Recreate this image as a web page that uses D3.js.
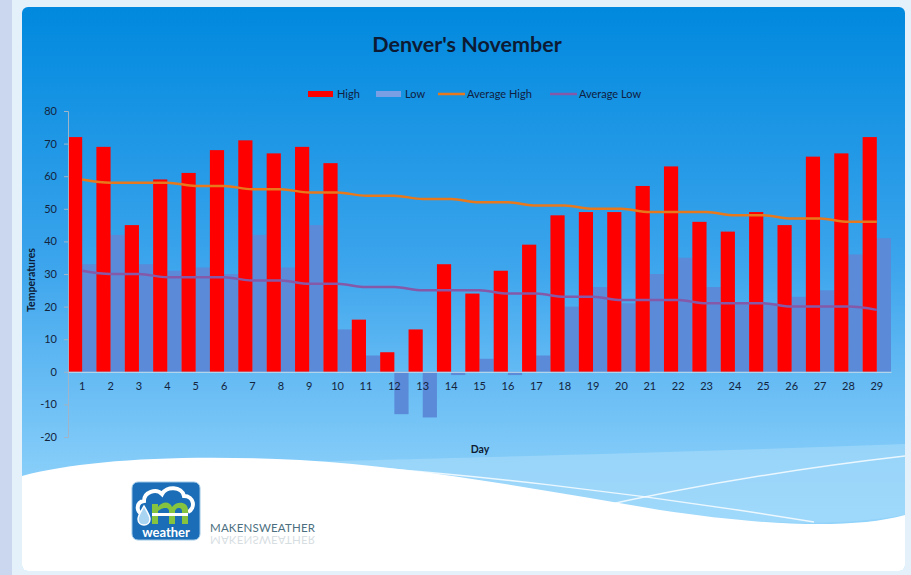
<!DOCTYPE html>
<html>
<head>
<meta charset="utf-8">
<script src="https://cdn.jsdelivr.net/npm/d3@7"></script>
<style>
  html, body { margin: 0; padding: 0; background: #e4f1fb; }
  svg { display: block; font-family: Lato, "Open Sans", sans-serif; }
</style>
</head>
<body>
<svg id="chart" width="911" height="575"></svg>
<script>
// Denver's November, daily temperatures
const days = d3.range(1, 30);
const high = [72, 69, 45, 59, 61, 68, 71, 67, 69, 64, 16, 6, 13, 33, 24, 31, 39, 48, 49, 49, 57, 63, 46, 43, 49, 45, 66, 67, 72];
const low = [33, 42, 33, 31, 32, 30, 42, 32, 45, 13, 5, -13, -14, -1, 4, -1, 5, 20, 26, 21, 30, 35, 26, 21, 21, 23, 25, 36, 41];
const avgHigh = [59, 58, 58, 58, 57, 57, 56, 56, 55, 55, 54, 54, 53, 53, 52, 52, 51, 51, 50, 50, 49, 49, 49, 48, 48, 47, 47, 46, 46];
const avgLow = [31, 30, 30, 29, 29, 29, 28, 28, 27, 27, 26, 26, 25, 25, 25, 24, 24, 23, 23, 22, 22, 22, 21, 21, 21, 20, 20, 20, 19];
const yTicks = [-20, -10, 0, 10, 20, 30, 40, 50, 60, 70, 80];
const legendItems = [
  { name: "High", kind: "bar", color: "#ff0000" },
  { name: "Low", kind: "bar", color: "#7a9fe4" },
  { name: "Average High", kind: "line", color: "#e8781c" },
  { name: "Average Low", kind: "line", color: "#8559a8" },
];

const svg = d3.select("#chart");
const defs = svg.append("defs");

// ---- frame and background ----
svg.append("rect").attr("x", 0).attr("y", 0).attr("width", 12).attr("height", 575).attr("fill", "#cbd7ef");

const bg = defs.append("linearGradient").attr("id", "bg").attr("x1", 0).attr("y1", 0).attr("x2", 0).attr("y2", 1);
bg.append("stop").attr("offset", "0%").attr("stop-color", "#0089de");
bg.append("stop").attr("offset", "45%").attr("stop-color", "#3ba4ec");
bg.append("stop").attr("offset", "82%").attr("stop-color", "#86cdf9");
bg.append("stop").attr("offset", "100%").attr("stop-color", "#9ad8fb");

defs.append("clipPath").attr("id", "panelClip")
  .append("rect").attr("x", 22).attr("y", 7).attr("width", 883).attr("height", 564).attr("rx", 6);

const panel = svg.append("g").attr("clip-path", "url(#panelClip)");
panel.append("rect").attr("x", 22).attr("y", 7).attr("width", 883).attr("height", 564).attr("fill", "url(#bg)");

// wave decoration at the bottom
panel.append("path")
  .attr("d", "M300,462 C450,458 700,452 905,444 L905,515 C820,530 720,522 600,502 C500,484 400,466 300,462 Z")
  .attr("fill", "#a9dcfa").attr("opacity", 0.6);
panel.append("path")
  .attr("d", "M22,476 C80,460 180,454 300,460 C420,467 540,490 660,510 C760,525 850,530 905,515 L905,571 L22,571 Z")
  .attr("fill", "#ffffff");
panel.append("path")
  .attr("d", "M280,462 C450,470 650,495 814,522")
  .attr("fill", "none").attr("stroke", "#ffffff").attr("stroke-width", 1.5).attr("opacity", 0.8);
panel.append("path")
  .attr("d", "M575,512 C680,488 800,468 905,456")
  .attr("fill", "none").attr("stroke", "#ffffff").attr("stroke-width", 1.5).attr("opacity", 0.8);

// ---- scales ----
const x = d3.scaleBand().domain(days).range([68, 891]).padding(0);
const sub = d3.scaleBand().domain(["high", "low"]).range([0, x.bandwidth()]);
const y = d3.scaleLinear().domain([-20, 80]).range([437, 111]);

// ---- title ----
svg.append("text")
  .attr("x", 467).attr("y", 52)
  .attr("text-anchor", "middle")
  .attr("font-size", 21.5).attr("font-weight", "bold")
  .attr("fill", "#0d1a33")
  .text("Denver's November");

// ---- legend ----
const legend = svg.append("g").attr("font-size", 11).attr("fill", "#102040");
const legendX = [308, 376, 438, 550];
legendItems.forEach((item, i) => {
  const g = legend.append("g").attr("transform", `translate(${legendX[i]},94)`);
  if (item.kind === "bar") {
    g.append("rect").attr("x", 0).attr("y", -3).attr("width", 25).attr("height", 6).attr("fill", item.color);
  } else {
    g.append("line").attr("x1", 0).attr("x2", 27).attr("y1", 0).attr("y2", 0)
      .attr("stroke", item.color).attr("stroke-width", 2.5);
  }
  g.append("text").attr("x", 29).attr("y", 4).text(item.name);
});

// ---- bars ----
const plot = svg.append("g");
plot.selectAll("rect.low")
  .data(days)
  .join("rect")
  .attr("class", "low")
  .attr("x", (d) => x(d) + sub("low"))
  .attr("width", sub.bandwidth())
  .attr("y", (d, i) => y(Math.max(0, low[i])))
  .attr("height", (d, i) => Math.abs(y(low[i]) - y(0)))
  .attr("fill", "#5a8ad8");

plot.selectAll("rect.high")
  .data(days)
  .join("rect")
  .attr("class", "high")
  .attr("x", (d) => x(d) + sub("high"))
  .attr("width", sub.bandwidth())
  .attr("y", (d, i) => y(Math.max(0, high[i])))
  .attr("height", (d, i) => Math.abs(y(high[i]) - y(0)))
  .attr("fill", "#ff0000");

// ---- axes ----
const yAxis = svg.append("g")
  .attr("transform", "translate(68,0)")
  .call(d3.axisLeft(y).tickValues(yTicks).tickFormat((d) => String(d)).tickSize(4).tickPadding(7));
yAxis.select(".domain").attr("stroke", "#9fb4c8");
yAxis.selectAll(".tick line").attr("stroke", "#9fb4c8");
yAxis.selectAll(".tick text").attr("font-size", 11).attr("fill", "#14243c").attr("font-family", "Lato, sans-serif");

const xAxis = svg.append("g")
  .attr("transform", `translate(0,${y(0)})`)
  .call(d3.axisBottom(x).tickSize(0).tickPadding(10));
xAxis.select(".domain").attr("stroke", "#c8dbea").attr("stroke-width", 1);
xAxis.selectAll(".tick text").attr("font-size", 11).attr("fill", "#14243c").attr("font-family", "Lato, sans-serif");

// ---- average lines ----
const cx = (d) => x(d) + x.bandwidth() / 2;
const lineHigh = d3.line().x((d) => cx(d)).y((d, i) => y(avgHigh[i])).curve(d3.curveMonotoneX);
const lineLow = d3.line().x((d) => cx(d)).y((d, i) => y(avgLow[i])).curve(d3.curveMonotoneX);
svg.append("path").datum(days).attr("d", lineHigh)
  .attr("fill", "none").attr("stroke", "#e8781c").attr("stroke-width", 2.5);
svg.append("path").datum(days).attr("d", lineLow)
  .attr("fill", "none").attr("stroke", "#8559a8").attr("stroke-width", 2.5);

// ---- axis titles ----
svg.append("text")
  .attr("transform", "translate(35,280) rotate(-90)")
  .attr("text-anchor", "middle")
  .attr("font-size", 10.5).attr("font-weight", "bold").attr("fill", "#0d1a33")
  .text("Temperatures");
svg.append("text")
  .attr("x", 480).attr("y", 453)
  .attr("text-anchor", "middle")
  .attr("font-size", 10.5).attr("font-weight", "bold").attr("fill", "#0d1a33")
  .text("Day");

// ---- logo ----
const logo = svg.append("g").attr("transform", "translate(132,482)");
logo.append("rect").attr("width", 68).attr("height", 58).attr("rx", 6)
  .attr("fill", "#1a6db6").attr("stroke", "#9cc7e6").attr("stroke-width", 1);
logo.append("path")
  .attr("d", "M10,32 C4,30 4,20 12,19 C12,10 24,6 30,12 C34,4 50,4 52,14 C62,14 64,26 56,30")
  .attr("fill", "none").attr("stroke", "#ffffff").attr("stroke-width", 4);
// green "m" glyph drawn as a shape
logo.append("path")
  .attr("d", "M20,42 L20,22 L26,22 L26,25 C30,19 38,19 40,25 C44,19 56,19 56,28 L56,42 L50,42 L50,29 C50,25 44,25 43,29 L43,42 L37,42 L37,29 C37,25 31,25 26,29 L26,42 Z")
  .attr("fill", "#86c440");
logo.append("rect").attr("x", 20).attr("y", 31).attr("width", 36).attr("height", 3).attr("fill", "#ffffff");
logo.append("path").attr("d", "M12,24 C8,31 6,34 6,37 C6,41 9,43 12,43 C15,43 18,41 18,37 C18,34 16,31 12,24 Z")
  .attr("fill", "#a9d4f2").attr("stroke", "#ffffff").attr("stroke-width", 1.5);
logo.append("text").attr("x", 34).attr("y", 55).attr("text-anchor", "middle")
  .attr("font-size", 13).attr("font-weight", "bold").attr("fill", "#ffffff").text("weather");

svg.append("text").attr("x", 210).attr("y", 532)
  .attr("font-size", 11.5).attr("fill", "#4c6f80").attr("letter-spacing", 0.2)
  .text("MAKENSWEATHER");
svg.append("text").attr("transform", "translate(210,536) scale(1,-1)")
  .attr("font-size", 11.5).attr("fill", "#4c6f80").attr("opacity", 0.22).attr("letter-spacing", 0.2)
  .text("MAKENSWEATHER");
</script>
</body>
</html>
